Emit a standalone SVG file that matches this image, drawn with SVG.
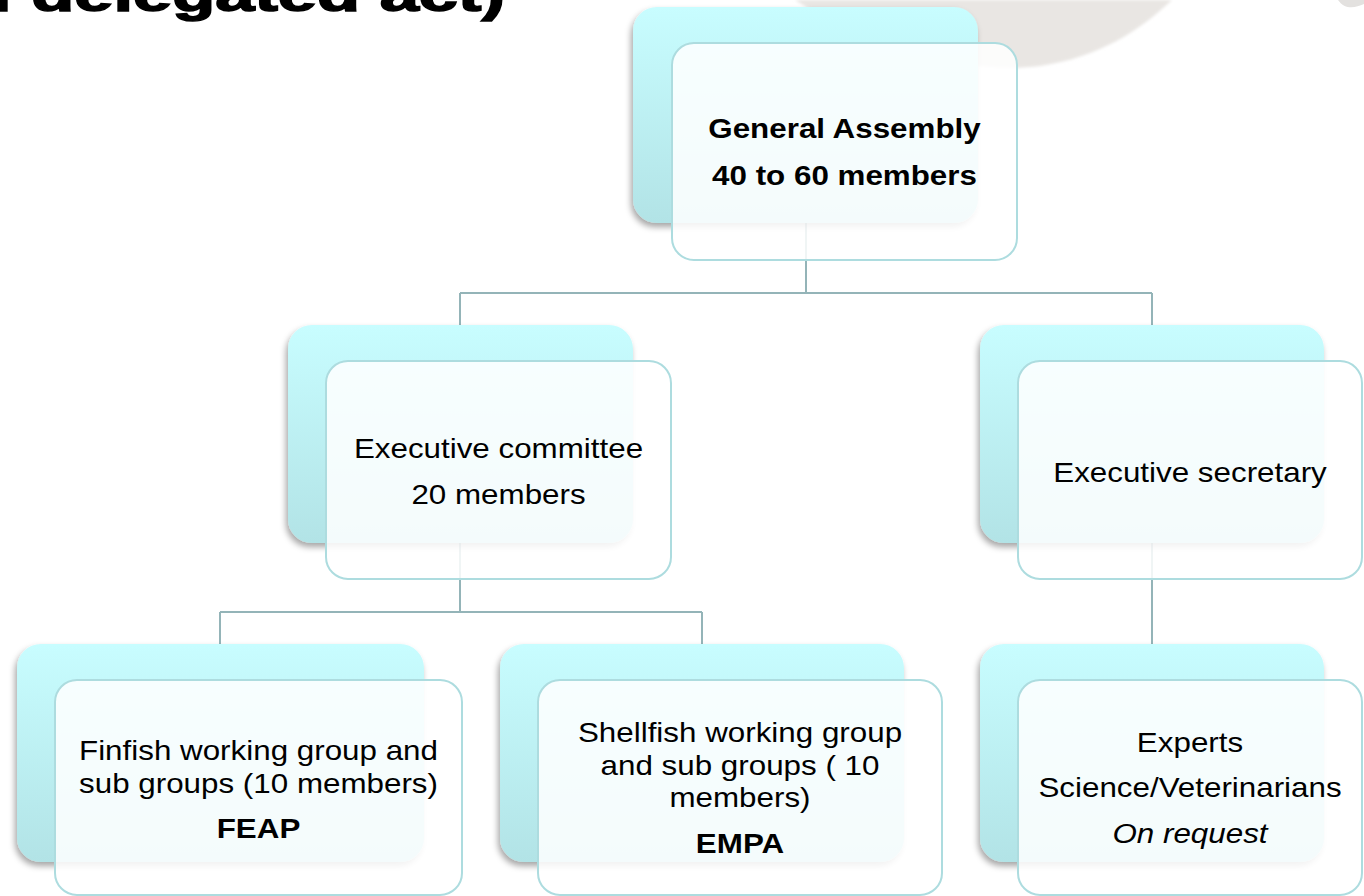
<svg xmlns="http://www.w3.org/2000/svg" width="1364" height="896" viewBox="0 0 1364 896">
<defs>
<linearGradient id="backGrad" x1="0" y1="0" x2="0" y2="1">
<stop offset="0" stop-color="#c8fdff"/>
<stop offset="1" stop-color="#b2e3e6"/>
</linearGradient>
<filter id="shadow" x="-10%" y="-10%" width="120%" height="125%">
<feDropShadow dx="-2" dy="4" stdDeviation="3" flood-color="#000" flood-opacity="0.35"/>
</filter>
<filter id="soft" x="-10%" y="-50%" width="120%" height="200%">
<feGaussianBlur stdDeviation="1.5"/>
</filter>
</defs>
<style>
.back{fill:url(#backGrad);filter:url(#shadow)}
.front{fill:#ffffff;fill-opacity:0.86;stroke:#addcdf;stroke-width:2}
.conn{fill:none;stroke:#94b4b8;stroke-width:2}
.t{font-family:"Liberation Sans",Arial,Helvetica,sans-serif;font-size:28px;fill:#000;text-anchor:middle}
.b{font-weight:bold}
.i{font-style:italic}
.title{font-family:"Liberation Sans",Arial,Helvetica,sans-serif;font-weight:bold;font-size:48px;fill:#000;stroke:#000;stroke-width:1.5}
</style>
<rect width="1364" height="896" fill="#ffffff"/>
<path d="M 795 0 C 860 42, 960 76, 1040 66 C 1100 57, 1140 30, 1172 0 Z" fill="#e9e6e3" filter="url(#soft)"/>
<path d="M 1338 0 L 1364 0 L 1364 4 C 1355 8, 1345 10, 1338 0 Z" fill="#e3e1df"/>
<text class="title" x="-8" y="11" textLength="513" lengthAdjust="spacingAndGlyphs">l delegated act)</text>
<g id="connectors">
<path class="conn" d="M 806 223 V 293 M 460 293 H 1152 M 460 293 V 325 M 1152 293 V 325"/>
<path class="conn" d="M 460 543 V 612 M 220 612 H 702 M 220 612 V 644 M 702 612 V 644"/>
<path class="conn" d="M 1152 543 V 644"/>
</g>
<g id="general-assembly">
<rect class="back" x="633" y="7" width="345" height="216" rx="24"/>
<rect class="front" x="672" y="43" width="345" height="217" rx="22"/>
<text class="t b" transform="translate(844.5,0) scale(1.12,1)"><tspan x="0" y="138">General Assembly</tspan><tspan x="0" y="185">40 to 60 members</tspan></text>
</g>
<g id="executive-committee">
<rect class="back" x="288" y="325" width="345" height="218" rx="24"/>
<rect class="front" x="326" y="361" width="345" height="218" rx="22"/>
<text class="t" transform="translate(498.5,0) scale(1.12,1)"><tspan x="0" y="458">Executive committee</tspan><tspan x="0" y="504">20 members</tspan></text>
</g>
<g id="executive-secretary">
<rect class="back" x="980" y="325" width="344" height="218" rx="24"/>
<rect class="front" x="1018" y="361" width="344" height="218" rx="22"/>
<text class="t" transform="translate(1190,0) scale(1.12,1)"><tspan x="0" y="482">Executive secretary</tspan></text>
</g>
<g id="finfish">
<rect class="back" x="17" y="644" width="407" height="218" rx="24"/>
<rect class="front" x="55" y="680" width="407" height="215" rx="22"/>
<text class="t" transform="translate(258.5,0) scale(1.12,1)"><tspan x="0" y="760">Finfish working group and</tspan><tspan x="0" y="793">sub groups (10 members)</tspan><tspan class="b" x="0" y="838">FEAP</tspan></text>
</g>
<g id="shellfish">
<rect class="back" x="500" y="644" width="404" height="218" rx="24"/>
<rect class="front" x="538" y="680" width="404" height="215" rx="22"/>
<text class="t" transform="translate(740,0) scale(1.12,1)"><tspan x="0" y="742">Shellfish working group</tspan><tspan x="0" y="775">and sub groups ( 10</tspan><tspan x="0" y="807">members)</tspan><tspan class="b" x="0" y="853">EMPA</tspan></text>
</g>
<g id="experts">
<rect class="back" x="980" y="644" width="344" height="218" rx="24"/>
<rect class="front" x="1018" y="680" width="344" height="215" rx="22"/>
<text class="t" transform="translate(1190,0) scale(1.12,1)"><tspan x="0" y="752">Experts</tspan><tspan x="0" y="797">Science/Veterinarians</tspan><tspan class="i" x="0" y="843">On request</tspan></text>
</g>
</svg>
